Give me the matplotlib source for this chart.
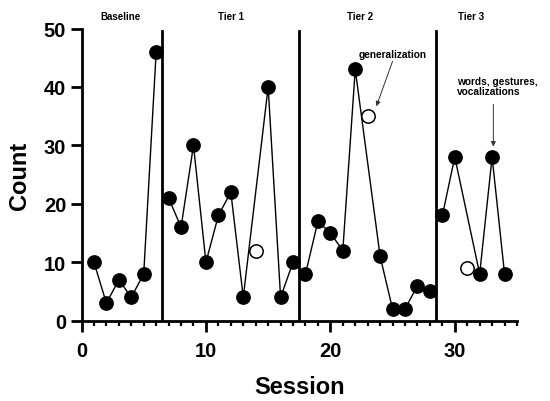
import matplotlib.pyplot as plt
import numpy as np

plt.rcParams['font.family'] = ['Liberation Sans', 'DejaVu Sans']

# session numbers and counts per phase (open circles are separate)
baseline_x = [1, 2, 3, 4, 5, 6]
baseline_y = [10, 3, 7, 4, 8, 46]
tier1_x = [7, 8, 9, 10, 11, 12, 13, 15, 16, 17]
tier1_y = [21, 16, 30, 10, 18, 22, 4, 40, 4, 10]
tier2_x = [18, 19, 20, 21, 22, 24, 25, 26, 27, 28]
tier2_y = [8, 17, 15, 12, 43, 11, 2, 2, 6, 5]
tier3_x = [29, 30, 32, 33, 34]
tier3_y = [18, 28, 8, 28, 8]
open_x = [14, 23, 31]
open_y = [12, 35, 9]

phase_lines = [6.5, 17.5, 28.5]
phase_names = ['Baseline', 'Tier 1', 'Tier 2', 'Tier 3']
phase_label_x = [3.1, 12.0, 22.4, 31.3]

fig = plt.figure(figsize=(5.5, 4.02), dpi=100)
ax = fig.add_axes([0.1482, 0.1998, 0.7918, 0.7268])

for xs, ys in [(baseline_x, baseline_y), (tier1_x, tier1_y),
               (tier2_x, tier2_y), (tier3_x, tier3_y)]:
   ax.plot(xs, ys, '-o', color='black', linewidth=1.0, markersize=9.6,
           clip_on=False, zorder=3)

ax.plot(open_x, open_y, 'o', color='black', markerfacecolor='white',
        markeredgewidth=1.1, markersize=9.6, linestyle='none', zorder=3)

for x in phase_lines:
   ax.plot([x, x], [0, 49.5], color='black', linewidth=2.0, zorder=2)

for name, x in zip(phase_names, phase_label_x):
   ax.text(x, 52.2, name, ha='center', va='center', fontsize=7,
           fontweight='bold', clip_on=False)

ax.text(22.3, 45.7, 'generalization', fontsize=7.3, fontweight='bold',
        ha='left', va='center')
ax.annotate('', xy=(23.7, 36.7), xytext=(25.0, 44.4),
            arrowprops=dict(arrowstyle='-|>', color='#333333', lw=0.7,
                            shrinkA=0, shrinkB=0, mutation_scale=7))
ax.annotate('', xy=(33.1, 29.8), xytext=(33.1, 37.0),
            arrowprops=dict(arrowstyle='-|>', color='#333333', lw=0.7,
                            shrinkA=0, shrinkB=0, mutation_scale=7))
ax.text(30.2, 40.2, 'words, gestures,\nvocalizations', fontsize=7.3,
        fontweight='bold', ha='left', va='center', linespacing=1.05,
        clip_on=False)

ax.set_xlim(0, 35)
ax.set_ylim(0, 50)
ax.set_xticks([0, 10, 20, 30])
ax.set_xticks(np.arange(0, 36, 1), minor=True)
ax.set_yticks([0, 10, 20, 30, 40, 50])

for side in ['top', 'right']:
   ax.spines[side].set_visible(False)
for side in ['left', 'bottom']:
   ax.spines[side].set_linewidth(2.0)

ax.tick_params(axis='both', which='major', width=2.0, length=8,
               labelsize=14.5)
ax.tick_params(axis='x', which='major', pad=6.5)
ax.tick_params(axis='y', which='major', pad=3)
ax.tick_params(axis='x', which='minor', width=1.6, length=3.5)
for lbl in ax.get_xticklabels() + ax.get_yticklabels():
   lbl.set_fontweight('bold')

ax.set_xlabel('Session', fontsize=17, fontweight='bold', labelpad=11)
ax.set_ylabel('Count', fontsize=17, fontweight='bold', labelpad=9)

fig.savefig('out.png', dpi=100)
